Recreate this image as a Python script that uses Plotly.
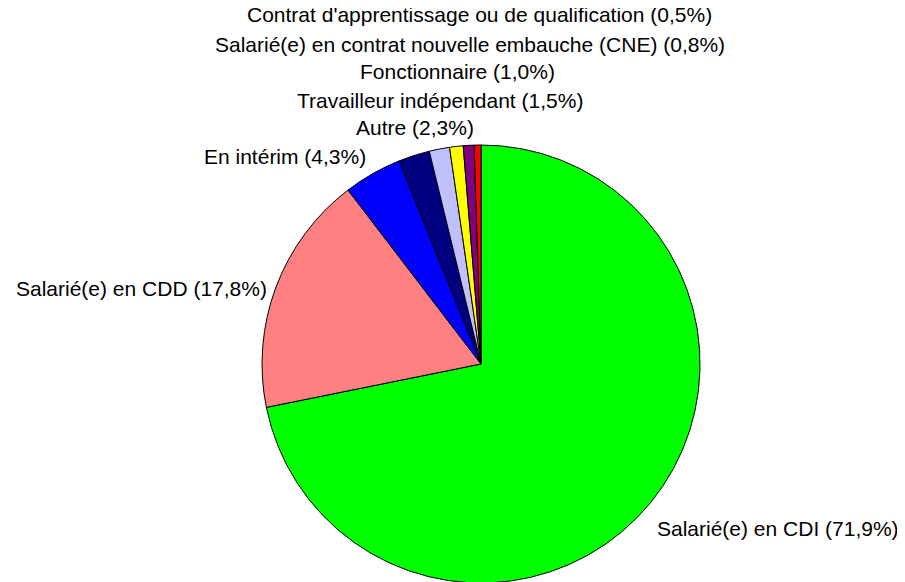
import plotly.graph_objects as go

# Data
categories = [
    "Salarié(e) en CDI",
    "Salarié(e) en CDD",
    "En intérim",
    "Autre",
    "Travailleur indépendant",
    "Fonctionnaire",
    "Salarié(e) en contrat nouvelle embauche (CNE)",
    "Contrat d'apprentissage ou de qualification",
]
shares = [71.9, 17.8, 4.3, 2.3, 1.5, 1.0, 0.8, 0.5]

# Styles
colors = ["#00FF00", "#FF8080", "#0000FF", "#000080",
          "#C0C0FF", "#FFFF00", "#800080", "#FF0000"]

W, H = 905, 582

# label anchor positions in figure pixels (layout only): (x, y, xanchor)
label_pos = [
    (647, 520, "left"),
    (261, 280, "right"),
    (360, 148, "right"),
    (407, 120, "center"),
    (432, 92, "center"),
    (449, 63, "center"),
    (462, 36, "center"),
    (471, 7, "center"),
]

fig = go.Figure(go.Pie(
    labels=categories,
    values=shares,
    sort=False,
    direction="clockwise",
    rotation=0,
    marker=dict(colors=colors, line=dict(color="#000000", width=1)),
    textinfo="none",
    hoverinfo="label+percent",
    showlegend=False,
    domain=dict(x=[0.2727, 0.7727], y=[0.012, 0.7646]),
))

annotations = []
for cat, v, (px, py, anchor) in zip(categories, shares, label_pos):
    txt = f"{cat} ({v:.1f}%)".replace(".", ",")
    annotations.append(dict(
        x=px / W, y=1 - py / H, xref="paper", yref="paper",
        xanchor=anchor, yanchor="middle", showarrow=False,
        text=txt, font=dict(family="Liberation Sans, Arial", size=21, color="#000000"),
    ))

fig.update_layout(
    width=W, height=H, autosize=False,
    margin=dict(l=0, r=0, t=0, b=0),
    paper_bgcolor="#FFFFFF", plot_bgcolor="#FFFFFF",
    annotations=annotations,
)

fig.write_html("out.html")
